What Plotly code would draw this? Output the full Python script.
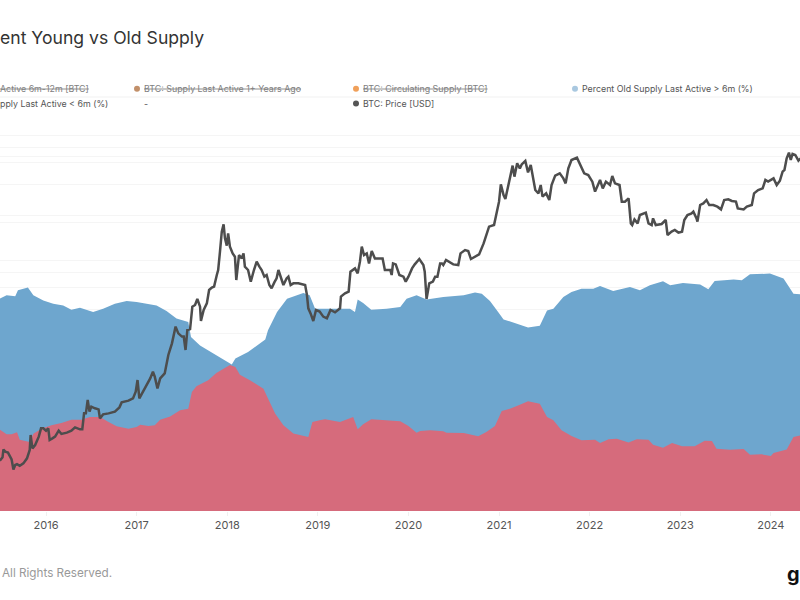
import plotly.graph_objects as go

# Decimal-year positions and values
red_t = [2015.49,2015.565,2015.62,2015.68,2015.71,2015.82,2015.86,2015.95,2016.06,2016.17,2016.28,2016.39,2016.485,2016.595,2016.69,2016.78,2016.91,2017.0,2017.04,2017.13,2017.20,2017.26,2017.37,2017.48,2017.57,2017.61,2017.66,2017.79,2017.88,2018.03,2018.09,2018.14,2018.25,2018.40,2018.45,2018.53,2018.62,2018.73,2018.895,2018.94,2019.02,2019.08,2019.245,2019.39,2019.44,2019.50,2019.59,2019.76,2019.91,2020.0,2020.09,2020.13,2020.24,2020.385,2020.42,2020.61,2020.70,2020.77,2020.86,2020.955,2021.03,2021.12,2021.23,2021.32,2021.45,2021.53,2021.60,2021.69,2021.80,2021.91,2022.06,2022.115,2022.21,2022.30,2022.43,2022.52,2022.65,2022.70,2022.81,2022.91,2023.02,2023.16,2023.27,2023.35,2023.40,2023.55,2023.70,2023.77,2023.90,2024.0,2024.03,2024.175,2024.25,2024.33]
red_pct = [27.85,26.26,26.26,26.94,24.43,23.63,26.48,28.2,29.34,30.14,31.28,31.28,32.2,32.2,30.48,29.0,28.2,28.77,29.57,29.1,29.34,31.28,32.4,34.47,35.05,40.75,42.7,44.75,47.26,50.0,49.3,46.7,44.75,41.9,38.5,33.33,29.34,26.5,25.34,30.5,31.05,31.4,30.5,32.2,28.0,29.7,31.4,31.05,30.7,29.1,26.83,27.4,27.63,27.3,26.83,26.7,26.03,25.57,27.05,29.1,34.25,35.05,36.4,37.56,36.76,32.2,31.05,27.63,25.68,24.2,24.43,23.3,24.54,24.77,23.5,24.54,24.43,22.7,21.7,23.3,22.15,22.15,24.1,24.0,21.35,21.0,21.2,19.3,19.4,18.84,19.86,21.1,25.34,25.9]

blue_t = [2015.49,2015.565,2015.66,2015.69,2015.80,2015.86,2015.97,2016.08,2016.19,2016.28,2016.375,2016.52,2016.63,2016.76,2016.89,2017.0,2017.11,2017.22,2017.33,2017.44,2017.57,2017.60,2017.70,2017.88,2018.05,2018.09,2018.23,2018.42,2018.45,2018.55,2018.66,2018.84,2018.91,2018.97,2019.17,2019.355,2019.41,2019.44,2019.50,2019.59,2019.76,2019.91,2019.98,2020.09,2020.2,2020.385,2020.61,2020.735,2020.81,2020.90,2020.99,2021.05,2021.14,2021.32,2021.45,2021.53,2021.60,2021.71,2021.80,2021.91,2022.04,2022.115,2022.26,2022.445,2022.555,2022.665,2022.81,2022.89,2023.03,2023.22,2023.31,2023.38,2023.59,2023.68,2023.77,2023.99,2024.14,2024.25,2024.33]
blue_pct = [72.7,73.9,73.5,75.6,76.5,73.9,72.1,71.0,70.4,68.95,69.6,68.15,69.3,71.0,71.9,71.6,71.0,70.4,68.5,65.9,64.7,59.6,56.7,53.3,50.2,52.2,54.45,58.7,61.9,68.15,72.7,74.66,73.9,69.3,69.3,69.3,68.15,72.4,71.2,68.95,69.3,69.9,72.7,73.86,72.4,73.3,73.86,74.8,74.4,71.9,68.15,65.6,64.7,62.8,63.4,68.7,69.3,73.3,75.0,76.14,76.14,77.05,75.34,76.7,75.57,77.3,78.65,77.3,78.1,77.6,75.9,78.8,79.3,79.0,81.05,81.3,79.6,74.4,74.2]

price_t = [2015.49,2015.52,2015.53,2015.55,2015.58,2015.60,2015.62,2015.64,2015.66,2015.68,2015.71,2015.75,2015.79,2015.82,2015.83,2015.85,2015.88,2015.92,2015.945,2015.97,2016.0,2016.025,2016.04,2016.07,2016.10,2016.14,2016.17,2016.23,2016.28,2016.32,2016.375,2016.40,2016.42,2016.44,2016.46,2016.48,2016.50,2016.54,2016.58,2016.595,2016.63,2016.69,2016.76,2016.81,2016.835,2016.91,2016.96,2016.99,2017.01,2017.03,
2017.04,2017.07,2017.11,2017.15,2017.18,2017.20,2017.23,2017.26,2017.31,2017.35,2017.39,2017.405,2017.43,2017.46,2017.50,2017.52,2017.54,2017.56,2017.59,2017.615,2017.645,2017.67,2017.70,2017.71,2017.74,2017.775,2017.80,2017.83,2017.855,2017.885,2017.90,2017.92,2017.94,2017.96,2017.975,2017.995,2018.01,2018.03,2018.06,2018.085,2018.10,2018.13,2018.16,2018.18,2018.195,2018.23,2018.26,2018.295,2018.325,2018.355,2018.38,2018.41,2018.435,2018.465,
2018.49,2018.52,2018.545,2018.565,2018.59,2018.62,2018.655,2018.675,2018.70,2018.73,2018.785,2018.86,2018.88,2018.895,2018.92,2018.95,2018.98,2019.02,2019.06,2019.10,2019.14,2019.19,2019.245,2019.255,2019.30,2019.34,2019.36,2019.41,2019.44,2019.465,2019.485,2019.51,2019.54,2019.565,2019.595,2019.63,2019.67,2019.715,2019.74,2019.80,2019.815,2019.83,2019.86,2019.90,2019.945,2019.97,2020.0,2020.04,2020.07,2020.12,2020.165,2020.18,2020.20,2020.23,2020.27,2020.295,2020.32,2020.35,
2020.37,2020.385,2020.415,2020.46,2020.495,2020.55,2020.575,2020.625,2020.66,2020.69,2020.735,2020.78,2020.83,2020.86,2020.89,2020.945,2020.975,2021.0,2021.02,2021.05,2021.07,2021.10,2021.12,2021.15,2021.17,2021.20,2021.23,2021.25,2021.29,2021.32,2021.35,2021.38,2021.40,2021.435,2021.46,2021.48,2021.52,2021.555,2021.58,2021.62,2021.67,2021.71,2021.735,2021.765,2021.80,2021.86,2021.895,2021.94,2021.985,2022.03,2022.06,2022.115,2022.145,2022.18,2022.225,
2022.25,2022.28,2022.33,2022.355,2022.39,2022.43,2022.455,2022.47,2022.495,2022.53,2022.555,2022.62,2022.65,2022.685,2022.70,2022.73,2022.795,2022.84,2022.86,2022.905,2022.94,2022.98,2023.02,2023.045,2023.08,2023.125,2023.145,2023.18,2023.19,2023.22,2023.255,2023.29,2023.32,2023.365,2023.41,2023.45,2023.485,2023.53,2023.57,2023.615,2023.635,2023.70,2023.735,2023.79,2023.815,2023.86,2023.91,2023.94,2023.97,2024.03,2024.065,2024.10,2024.13,2024.15,2024.175,2024.20,2024.22,2024.24,2024.27,2024.305,2024.33]
price_usd = [248,264,305,293,288,270,254,211,229,233,226,236,259,302,398,311,331,386,450,450,431,450,363,374,386,431,406,416,431,458,442,442,593,593,759,612,671,651,638,541,582,593,612,662,726,750,782,885,1096,782,
807,885,1000,1130,1279,1167,940,1130,1239,1738,2153,2438,2931,2588,2438,2438,1905,2754,2805,4233,4365,4875,4233,3251,3981,4500,5754,6012,6124,7586,8318,11660,16860,19280,14890,13030,16350,12790,11300,10630,6918,10960,10300,11300,8850,8318,6714,8318,9700,8850,8318,7362,7586,6310,
5932,6622,7129,8318,7362,6310,7129,7362,6310,6508,6508,6310,5248,4107,3741,3251,3981,3864,3524,3415,3981,3811,4107,5093,5408,5585,8072,8570,7816,9700,12790,10960,11300,9397,11800,10300,10300,10300,8318,8318,7586,9397,9226,7586,7362,6714,7362,8570,9226,10180,9120,8072,4875,6508,6714,7362,7362,9397,
9397,9120,10000,9572,9226,9120,11300,12020,11800,10180,10630,11090,13580,15850,18490,19050,23600,29300,40270,33110,30760,38630,46450,56890,46450,59300,54080,58210,61940,50230,57540,42360,36310,34120,39810,32140,34120,30200,39810,47320,49320,44980,41020,54080,63100,65900,57540,49320,47860,42360,35240,43650,37410,42360,39810,
46990,41020,39810,29300,29300,31120,19630,19050,21130,19630,22910,23930,19630,19050,21530,19050,19410,20890,15850,16860,17380,16560,16860,20890,22910,23600,24380,21530,20280,27540,28380,30200,27540,27540,26730,25410,30200,30550,29650,29300,25880,25410,26730,27540,34120,36310,37410,43650,42360,44980,39810,43150,50930,52480,65010,72280,63100,70470,69180,62370,65010]

year_ticks = [2016,2017,2018,2019,2020,2021,2022,2023,2024]
year_labels = ["2016","2017","2018","2019","2020","2021","2022","2023","2024"]
price_grid = [100000,80000,66700,60000,40000,22500,20000,10000,8000,6000,4000,2560]

TOP, BOTTOM = 120, 511
def px(x): return x / 800
def py(y): return (BOTTOM - y) / (BOTTOM - TOP)

fig = go.Figure()
fig.add_trace(go.Scatter(x=blue_t, y=blue_pct, mode="lines", line=dict(width=0, color="#6EA6CE"),
                         fill="tozeroy", fillcolor="#6EA6CE", name="Percent Old Supply Last Active > 6m (%)", yaxis="y"))
fig.add_trace(go.Scatter(x=red_t, y=red_pct, mode="lines", line=dict(width=0, color="#D66B7C"),
                         fill="tozeroy", fillcolor="#D66B7C", name="Percent Young Supply Last Active < 6m (%)", yaxis="y"))
fig.add_trace(go.Scatter(x=price_t, y=price_usd, mode="lines", line=dict(width=2.5, color="#4D4D4D"),
                         name="BTC: Price [USD]", yaxis="y2"))

FONT = "Inter, 'Noto Sans', sans-serif"
ann = []
def text(x, y, s, size, color, strike=False, weight=None, anchor="left"):
    f = dict(family=FONT, size=size, color=color)
    if strike: f["lineposition"] = "through"
    if weight: f["weight"] = weight
    ann.append(dict(xref="paper", yref="paper", x=px(x), y=py(y), text=s, showarrow=False,
                    xanchor=anchor, yanchor="middle", font=f, align="left",
                    borderpad=0, borderwidth=0))

text(0, 38, "ent Young vs Old Supply", 17.6, "#333333")
text(0, 88.8, "Active 6m-12m [BTC]", 8.85, "#808080", strike=True)
text(143.5, 88.8, "BTC: Supply Last Active 1+ Years Ago", 8.85, "#808080", strike=True)
text(362.5, 88.8, "BTC: Circulating Supply [BTC]", 8.85, "#808080", strike=True)
text(581.5, 88.8, "Percent Old Supply Last Active > 6m (%)", 8.85, "#555555")
text(0, 103.5, "pply Last Active < 6m (%)", 8.85, "#555555")
text(143.5, 103.5, "-", 8.85, "#555555")
text(362.5, 103.5, "BTC: Price [USD]", 8.85, "#555555")
text(1.5, 573, "All Rights Reserved.", 11.7, "#999999")
text(800, 574, "g", 20, "#111111", weight=700, anchor="right")

shapes = [dict(type="line", xref="paper", yref="paper", x0=0, x1=1, y0=py(97), y1=py(97),
               line=dict(color="#F1F1F1", width=1), layer="below")]
for cx, cy, col in [(137, 88.8, "#C2906A"), (356, 88.8, "#F0A05A"), (575, 88.8, "#A9C8E0"), (356, 103.5, "#555555")]:
    shapes.append(dict(type="circle", xref="paper", yref="paper", x0=px(cx-3), x1=px(cx+3),
                       y0=py(cy+3), y1=py(cy-3), fillcolor=col, line=dict(width=0)))

fig.update_layout(
    width=800, height=600, showlegend=False,
    margin=dict(l=0, r=0, t=TOP, b=600-BOTTOM, pad=0),
    paper_bgcolor="white", plot_bgcolor="white",
    annotations=ann, shapes=shapes,
    xaxis=dict(range=[2015.492, 2024.322], tickmode="array", tickvals=year_ticks, ticktext=year_labels,
               showgrid=False, zeroline=False, showline=False, ticks="outside", ticklen=4,
               tickcolor="#F0F0F0", tickfont=dict(family=FONT, size=11, color="#555555")),
    yaxis=dict(range=[0, 133.9], showgrid=False, zeroline=False, showticklabels=False, ticks=""),
    yaxis2=dict(type="log", range=[1.992, 5.12], overlaying="y", side="right", tickmode="array",
                tickvals=price_grid, showticklabels=False, showgrid=True, gridcolor="#F5F5F5",
                gridwidth=1, zeroline=False, ticks=""),
)
fig.write_html("out.html", post_script="document.body.style.margin='0';", config={"displayModeBar": False})
